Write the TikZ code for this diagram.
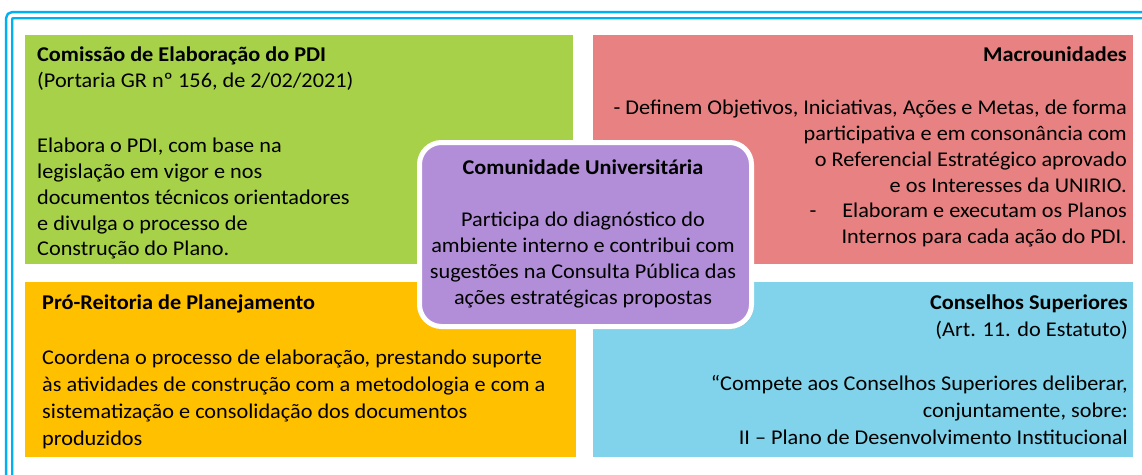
\documentclass[tikz,border=0pt]{standalone}
\usepackage{fontspec}
\setmainfont{Carlito}[FakeStretch=1.06]
\usetikzlibrary{shadows}
\definecolor{frameblue}{RGB}{0,176,240}
\definecolor{comgreen}{RGB}{166,209,72}
\definecolor{macred}{RGB}{232,130,130}
\definecolor{proyellow}{RGB}{255,192,0}
\definecolor{conblue}{RGB}{128,211,234}
\definecolor{unipurple}{RGB}{177,142,215}
\begin{document}
\begin{tikzpicture}[x=1pt, y=-1pt,
	box/.style={rectangle, inner sep=0pt, anchor=north west},
	txt/.style={inner sep=0pt, font=\fontsize{21}{25.8}\selectfont},
	txtb/.style={inner sep=0pt, font=\fontsize{21}{27}\selectfont}]
		
		\useasboundingbox (0,0) rectangle (1142,474);
		\clip (0,0) rectangle (1142,474);
		\draw[frameblue, line width=2.5pt, double=white, double distance=3.5pt, rounded corners=4pt] (9,15) rectangle (1170,500);
		
		\node[box, fill=comgreen, minimum width=548pt, minimum height=229pt] (C) at (25,35) {};
		\node[box, fill=macred, minimum width=540pt, minimum height=229pt] (M) at (593,35) {};
		\node[box, fill=proyellow, minimum width=551pt, minimum height=175pt] (P) at (25,282) {};
		\node[box, fill=conblue, minimum width=540pt, minimum height=175pt] (S) at (593,282) {};
		\node[box, fill=unipurple, draw=white, line width=5pt, rounded corners=22pt, minimum width=332pt, minimum height=184pt,
			drop shadow={shadow xshift=2pt, shadow yshift=-2pt, opacity=0.3}] (U) at (417,140) {};
		
		\node[txt, anchor=north west, align=left] (C') at (37,43.5) {\strut\textbf{Comissão de Elaboração do PDI}\\(Portaria GR nº 156, de 2/02/2021)};
		\node[txt, anchor=north west, align=left] (C'') at (37,134.5) {\strut Elabora o PDI, com base na\\legislação em vigor e nos\\documentos técnicos orientadores\\e divulga o processo de\\Construção do Plano.};
		
		\node[txt, anchor=north east, align=right] (M') at (1127,43.5) {\strut\textbf{Macrounidades}};
		\node[txt, anchor=north east, align=right] (M'') at (1127,96.4) {\strut - Definem Objetivos, Iniciativas, Ações e Metas, de forma\\participativa e em consonância com\\o Referencial Estratégico aprovado\\e os Interesses da UNIRIO.\\-\hspace{26pt}Elaboram e executam os Planos\\Internos para cada ação do PDI.};
		
		\node[txtb, anchor=north west, align=left] (P') at (42,290.1) {\strut\textbf{Pró-Reitoria de Planejamento}};
		\node[txtb, anchor=north west, align=left] (P'') at (42,345.6) {\strut Coordena o processo de elaboração, prestando suporte\\às atividades de construção com a metodologia e com a\\sistematização e consolidação dos documentos\\produzidos};
		
		\node[txtb, anchor=north east, align=right] (S') at (1128,290.1) {\strut\textbf{Conselhos Superiores}\\(Art. 11. do Estatuto)};
		\node[txtb, anchor=north east, align=right] (S'') at (1128,371.1) {\strut “Compete aos Conselhos Superiores deliberar,\\conjuntamente, sobre:\\II – Plano de Desenvolvimento Institucional};
		
		\node[txt, anchor=north, align=center] (U') at (583,155.9) {\strut\textbf{Comunidade Universitária}};
		\node[txt, anchor=north, align=center] (U'') at (583,208.4) {\strut Participa do diagnóstico do\\ambiente interno e contribui com\\sugestões na Consulta Pública das\\ações estratégicas propostas};
	\end{tikzpicture}
\end{document}
